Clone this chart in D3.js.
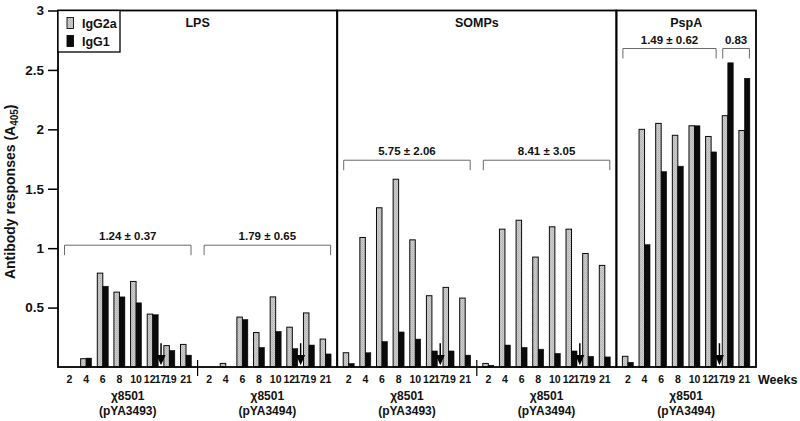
<!DOCTYPE html>
<html><head><meta charset="utf-8">
<script src="https://cdn.jsdelivr.net/npm/d3@7"></script>
<style>
body{margin:0;background:#fff}
text{font-family:"Liberation Sans",Arial,sans-serif;font-weight:bold;fill:#111}
</style>
</head><body><svg id="chart" width="800" height="421"></svg>
<script>
// ---- data ----
const panels = ["LPS", "SOMPs", "PspA"];
const groups = ["LPS-3493", "LPS-3494", "SOMPs-3493", "SOMPs-3494", "PspA-3494"];
const groupPanel = ["LPS", "LPS", "SOMPs", "SOMPs", "PspA"];
const groupStrainTop = ["χ8501", "χ8501", "χ8501", "χ8501", "χ8501"];
const groupStrain = ["(pYA3493)", "(pYA3494)", "(pYA3493)", "(pYA3494)", "(pYA3494)"];
const weeks = ["2", "4", "6", "8", "10", "12", "19", "21"];
const arrowWeek = "17";
const seriesNames = ["IgG2a", "IgG1"];
const igg2a = [
  [0, 0.07, 0.79, 0.63, 0.72, 0.445, 0.18, 0.19],
  [0, 0.03, 0.42, 0.29, 0.59, 0.335, 0.455, 0.235],
  [0.12, 1.09, 1.34, 1.58, 1.07, 0.60, 0.67, 0.58],
  [0.03, 1.16, 1.235, 0.925, 1.18, 1.16, 0.955, 0.855],
  [0.09, 2.00, 2.05, 1.95, 2.03, 1.94, 2.115, 1.99]
];
const igg1 = [
  [0, 0.075, 0.68, 0.59, 0.54, 0.44, 0.14, 0.10],
  [0, 0, 0.40, 0.165, 0.30, 0.155, 0.185, 0.11],
  [0.03, 0.12, 0.215, 0.295, 0.235, 0.135, 0.135, 0.10],
  [0.015, 0.185, 0.165, 0.15, 0.115, 0.135, 0.09, 0.085],
  [0.04, 1.03, 1.645, 1.69, 2.03, 1.81, 2.56, 2.43]
];
const yTicks = [0.5, 1, 1.5, 2, 2.5, 3];
const bracketGroup = [0, 1, 2, 3, 4, 4];
const bracketFrom = ["2", "2", "2", "2", "2", "19"];
const bracketTo = ["21", "21", "21", "21", "12", "21"];
const bracketLevel = [1.025, 1.025, 1.74, 1.74, 2.68, 2.68];
const bracketLabel = ["1.24 ± 0.37", "1.79 ± 0.65", "5.75 ± 2.06", "8.41 ± 3.05", "1.49 ± 0.62", "0.83"];

// ---- layout ----
const svg = d3.select("#chart");
const pLeft = 58, pRight = 756, pTop = 10.5, pBottom = 367;
const x0 = d3.scaleBand().domain(groups).range([pLeft, pRight]).padding(0);
const xi = d3.scalePoint().domain(weeks).range([11.5, 128]);
const y = d3.scaleLinear().domain([0, 3]).range([pBottom, pTop]);
const barW = 5.5;
const cx = (gi, w) => x0(groups[gi]) + xi(w);
const arrowX = gi => (cx(gi, "12") + cx(gi, "19")) / 2;

// texture for gray bars
const defs = svg.append("defs");
const pat = defs.append("pattern").attr("id", "grayPat").attr("patternUnits", "userSpaceOnUse")
  .attr("width", 2).attr("height", 2);
pat.append("rect").attr("width", 2).attr("height", 2).attr("fill", "#cdcdcd");
pat.append("rect").attr("width", 1).attr("height", 1).attr("fill", "#b2b2b2");
pat.append("rect").attr("x", 1).attr("y", 1).attr("width", 1).attr("height", 1).attr("fill", "#bdbdbd");

// bars
const barData = [];
groups.forEach((g, gi) => weeks.forEach((w, wi) => {
  barData.push({gi, w, s: 0, v: igg2a[gi][wi]});
  barData.push({gi, w, s: 1, v: igg1[gi][wi]});
}));
svg.append("g").selectAll("rect").data(barData.filter(d => d.v > 0)).join("rect")
  .attr("x", d => cx(d.gi, d.w) - (d.s === 0 ? barW : 0))
  .attr("width", barW)
  .attr("y", d => y(d.v))
  .attr("height", d => y(0) - y(d.v))
  .attr("fill", d => d.s === 0 ? "url(#grayPat)" : "#0a0a0a")
  .attr("stroke", "#0a0a0a").attr("stroke-width", d => d.s === 0 ? 1 : 0.5);

// arrows (week 17)
const ag = svg.append("g");
groups.forEach((g, gi) => {
  const ax = arrowX(gi);
  ag.append("line").attr("x1", ax).attr("x2", ax).attr("y1", y(0.2)).attr("y2", y(0.1))
    .attr("stroke", "#000").attr("stroke-width", 1.5);
  ag.append("path").attr("d", `M${ax - 4.5},${y(0.1)}L${ax + 4.5},${y(0.1)}L${ax},${y(0.015)}Z`).attr("fill", "#000");
});

// brackets
const bg = svg.append("g");
bracketGroup.forEach((gi, i) => {
  const x1 = cx(gi, bracketFrom[i]) - 5, x2 = cx(gi, bracketTo[i]) + 5;
  const yy = y(bracketLevel[i]), leg = 10;
  bg.append("path").attr("d", `M${x1},${yy + leg}V${yy}H${x2}V${yy + leg}`)
    .attr("fill", "none").attr("stroke", "#6a6a6a").attr("stroke-width", 1);
  bg.append("text").attr("x", (x1 + x2) / 2).attr("y", yy - 5).attr("text-anchor", "middle")
    .attr("font-size", 11.5).text(bracketLabel[i]);
});

// frame and panel dividers
const fg = svg.append("g").attr("fill", "none").attr("stroke", "#000").attr("stroke-width", 1.8);
panels.forEach(p => {
  const gs = groups.filter((g, i) => groupPanel[i] === p);
  const px1 = x0(gs[0]), px2 = x0(gs[gs.length - 1]) + x0.bandwidth();
  fg.append("rect").attr("x", px1).attr("y", pTop).attr("width", px2 - px1).attr("height", pBottom - pTop);
  svg.append("text").attr("x", (px1 + px2) / 2).attr("y", 27).attr("text-anchor", "middle")
    .attr("font-size", 12.5).text(p);
});

// group separator ticks within a panel
groups.forEach((g, gi) => {
  if (gi > 0 && groupPanel[gi] === groupPanel[gi - 1]) {
    svg.append("line").attr("x1", x0(g)).attr("x2", x0(g)).attr("y1", pBottom - 7).attr("y2", pBottom + 9)
      .attr("stroke", "#000").attr("stroke-width", 1.2);
  }
});

// y axis
const yAxis = d3.axisLeft(y).tickValues(yTicks).tickSize(10).tickPadding(4).tickFormat(d3.format("~g"));
const ya = svg.append("g").attr("transform", `translate(${pLeft},0)`).call(yAxis);
ya.select(".domain").remove();
ya.selectAll(".tick line").attr("stroke", "#000").attr("stroke-width", 1.5);
ya.selectAll(".tick text").attr("font-size", 13.5).attr("font-family", null).attr("fill", "#111");

const yl = svg.append("text").attr("transform", `translate(15,${(pTop + pBottom) / 2 + 3}) rotate(-90)`)
  .attr("text-anchor", "middle").attr("font-size", 14);
yl.append("tspan").text("Antibody responses (A");
yl.append("tspan").attr("font-size", 10).attr("dy", 3).text("405");
yl.append("tspan").attr("dy", -3).text(")");

// week labels (the crowded 12/17/19 labels are nudged apart)
const nudge = {"12": -3, "19": 1.5};
const wl = svg.append("g");
groups.forEach((g, gi) => {
  weeks.forEach(w => {
    wl.append("text").attr("x", cx(gi, w) + (nudge[w] || 0)).attr("y", 383).attr("text-anchor", "middle")
      .attr("font-size", 10.5).text(w);
  });
  wl.append("text").attr("x", arrowX(gi) - 0.5).attr("y", 383).attr("text-anchor", "middle").attr("font-size", 10.5).text(arrowWeek);
  const gc = x0(g) + (xi.range()[0] + xi.range()[1]) / 2;
  svg.append("text").attr("x", gc).attr("y", 400).attr("text-anchor", "middle").attr("font-size", 12).text(groupStrainTop[gi]);
  svg.append("text").attr("x", gc).attr("y", 415).attr("text-anchor", "middle").attr("font-size", 12).text(groupStrain[gi]);
});
svg.append("text").attr("x", 758).attr("y", 384).attr("font-size", 12.5).text("Weeks");

// legend
const lg = svg.append("g");
lg.append("rect").attr("x", pLeft).attr("y", pTop).attr("width", 62).attr("height", 41.5)
  .attr("fill", "#fff").attr("stroke", "#000").attr("stroke-width", 1.3);
seriesNames.forEach((s, i) => {
  lg.append("rect").attr("x", 67).attr("y", 17.5 + i * 18).attr("width", 6.5).attr("height", 11)
    .attr("fill", i === 0 ? "url(#grayPat)" : "#0a0a0a").attr("stroke", "#0a0a0a").attr("stroke-width", 0.9);
  lg.append("text").attr("x", 82).attr("y", 27.5 + i * 18).attr("font-size", 12.5).text(s);
});
</script>
</body></html>
